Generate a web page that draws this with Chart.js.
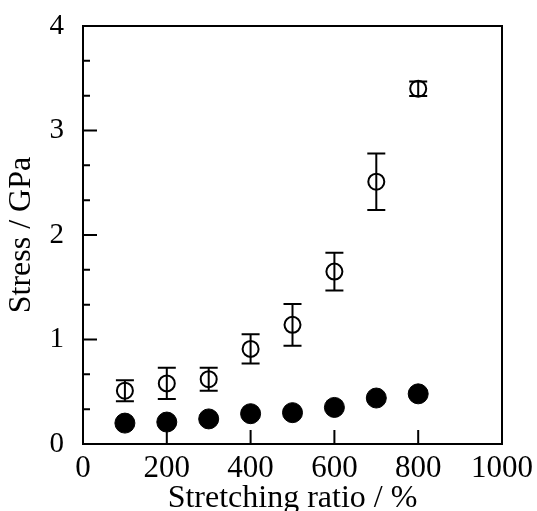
<!DOCTYPE html>
<html lang="en">
<head>
  <meta charset="UTF-8">
  <title>Stress vs Stretching ratio</title>
  <script src="https://cdn.jsdelivr.net/npm/chart.js"></script>
  <style>
    html, body { margin: 0; padding: 0; background: #fff; }
    #wrap { width: 537px; height: 511px; }
  </style>
</head>
<body>
  <div id="wrap"><canvas id="stressChart" width="537" height="511"></canvas></div>

  <script>
    // Stretching ratio (%)
    const ratios = [100, 200, 300, 400, 500, 600, 700, 800];
    // open circles: stress (GPa) with error
    const openStress = [0.51, 0.58, 0.62, 0.91, 1.14, 1.65, 2.51, 3.40];
    const openError = [0.10, 0.15, 0.11, 0.14, 0.20, 0.18, 0.27, 0.07];
    // filled circles: stress (GPa)
    const filledStress = [0.20, 0.21, 0.24, 0.29, 0.30, 0.35, 0.44, 0.48];

    const xTicks = [0, 200, 400, 600, 800, 1000];
    const yTicks = [0, 1, 2, 3, 4];
    const yMinorStep = 1 / 3;

    const serif = '"Liberation Serif", "DejaVu Serif", serif';

    // error bars with caps, drawn over the markers
    const errorBars = {
      id: 'errorBars',
      afterDatasetsDraw(chart) {
        const { ctx, scales: { x, y } } = chart;
        ctx.save();
        ctx.strokeStyle = '#000';
        ctx.lineWidth = 2;
        ratios.forEach((r, i) => {
          const px = x.getPixelForValue(r);
          const top = y.getPixelForValue(openStress[i] + openError[i]);
          const bot = y.getPixelForValue(openStress[i] - openError[i]);
          ctx.beginPath();
          ctx.moveTo(px, top); ctx.lineTo(px, bot);
          ctx.moveTo(px - 9, top); ctx.lineTo(px + 9, top);
          ctx.moveTo(px - 9, bot); ctx.lineTo(px + 9, bot);
          ctx.stroke();
        });
        ctx.restore();
      }
    };

    // frame and inward ticks
    const frame = {
      id: 'frame',
      afterDraw(chart) {
        const { ctx, chartArea: a, scales: { x, y } } = chart;
        ctx.save();
        ctx.strokeStyle = '#000';
        ctx.lineWidth = 2;
        ctx.strokeRect(a.left, a.top, a.right - a.left, a.bottom - a.top);
        ctx.beginPath();
        xTicks.forEach(v => {
          const px = x.getPixelForValue(v);
          ctx.moveTo(px, a.bottom); ctx.lineTo(px, a.bottom - 14);
        });
        for (let k = 0; k * yMinorStep <= 4.001; k++) {
          const py = y.getPixelForValue(k * yMinorStep);
          const len = k % 3 === 0 ? 14 : 7;
          ctx.moveTo(a.left, py); ctx.lineTo(a.left + len, py);
        }
        ctx.stroke();
        ctx.restore();
      }
    };

    const noPad = s => { s.paddingLeft = 0; s.paddingRight = 0; s.paddingTop = 0; s.paddingBottom = 0; };

    const ctx = document.getElementById('stressChart').getContext('2d');
    new Chart(ctx, {
      type: 'scatter',
      data: {
        datasets: [
          {
            label: 'open',
            data: ratios.map((r, i) => ({ x: r, y: openStress[i] })),
            pointStyle: 'circle',
            pointRadius: 8,
            pointBorderWidth: 2,
            pointBackgroundColor: '#fff',
            pointBorderColor: '#000'
          },
          {
            label: 'filled',
            data: ratios.map((r, i) => ({ x: r, y: filledStress[i] })),
            pointStyle: 'circle',
            pointRadius: 10,
            pointBorderWidth: 1,
            pointBackgroundColor: '#000',
            pointBorderColor: '#000'
          }
        ]
      },
      options: {
        responsive: false,
        animation: false,
        layout: { padding: { top: 26, right: 35, left: 0, bottom: 0 } },
        plugins: { legend: { display: false }, tooltip: { enabled: false } },
        scales: {
          x: {
            type: 'linear',
            min: 0, max: 1000,
            afterBuildTicks: s => { s.ticks = xTicks.map(v => ({ value: v })); },
            afterFit: s => { s.height = 67; noPad(s); },
            grid: { display: false, drawTicks: false },
            border: { display: false },
            ticks: {
              autoSkip: false, maxRotation: 0, padding: 6,
              callback: v => String(v),
              color: '#000', font: { family: serif, size: 31 }
            },
            title: {
              display: true, text: 'Stretching ratio / %', color: '#000',
              font: { family: serif, size: 32, lineHeight: 0.75 }, padding: { top: 0, bottom: 0 }
            }
          },
          y: {
            type: 'linear',
            min: 0, max: 4,
            afterBuildTicks: s => { s.ticks = yTicks.map(v => ({ value: v })); },
            afterFit: s => { s.width = 83; noPad(s); },
            grid: { display: false, drawTicks: false },
            border: { display: false },
            ticks: {
              padding: 19, color: '#000', font: { family: serif, size: 29 }
            },
            title: {
              display: true, text: 'Stress / GPa', color: '#000',
              font: { family: serif, size: 32, lineHeight: 1 }, padding: { top: 6, bottom: 0 }
            }
          }
        }
      },
      plugins: [errorBars, frame]
    });
  </script>
</body>
</html>
